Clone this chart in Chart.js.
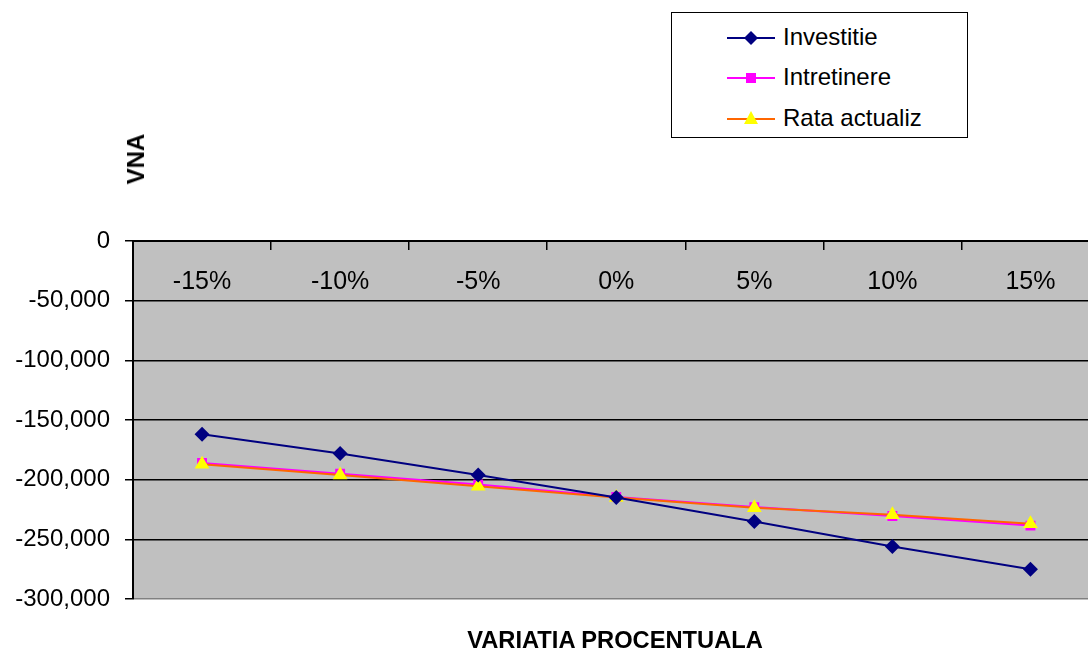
<!DOCTYPE html>
<html>
<head>
<meta charset="utf-8">
<script src="https://cdn.jsdelivr.net/npm/chart.js@4/dist/chart.umd.min.js"></script>
<style>
  html, body { margin: 0; padding: 0; width: 1088px; height: 652px; overflow: hidden; background: #fff; }
  #wrap { position: relative; width: 1108px; height: 652px; }
  canvas { position: absolute; left: 0; top: 0; }
  .ytitle { position: absolute; left: 136px; top: 159px; transform: translate(-50%, -50%) rotate(-90deg);
            font: bold 24px "Liberation Sans", Arial, sans-serif; color: #000; white-space: nowrap; }
  .xtitle { position: absolute; left: 615px; top: 640px; transform: translate(-50%, -50%);
            font: bold 23.7px "Liberation Sans", Arial, sans-serif; color: #000; white-space: nowrap; }
  #legend { position: absolute; left: 671px; top: 12px; width: 295px; height: 124px;
            border: 1.5px solid #000; background: #fff; }
  .row { position: absolute; left: 55px; height: 30px; display: flex; align-items: center;
         font: 24px "Liberation Sans", Arial, sans-serif; color: #000; white-space: nowrap; }
  .row svg { margin-right: 8px; }
</style>
</head>
<body>
<div id="wrap">
  <canvas id="c" width="1108" height="652"></canvas>
  <div class="ytitle">VNA</div>
  <div class="xtitle">VARIATIA PROCENTUALA</div>
  <div id="legend"></div>
</div>
<script>
const categories = ['-15%', '-10%', '-5%', '0%', '5%', '10%', '15%'];
const seriesNames = ['Investitie', 'Intretinere', 'Rata actualiz'];
const investitie = [-162000, -178000, -196000, -215000, -235000, -256000, -275000];
const intretinere = [-186000, -195000, -204000, -214500, -223000, -230500, -238500];
const rataActualiz = [-187000, -196000, -205500, -215000, -223500, -229500, -237000];
const yTicks = [0, -50000, -100000, -150000, -200000, -250000, -300000];

const styles = [
  { line: '#000080', fill: '#000080', shape: 'rectRot', r: 7.5 },
  { line: '#FF00FF', fill: '#FF00FF', shape: 'rect', r: 7 },
  { line: '#FF6600', fill: '#FFFF00', shape: 'triangle', r: 8.5 }
];
const values = [investitie, intretinere, rataActualiz];
const orders = [0, 2, 1];

const datasets = values.map((v, i) => ({
  label: seriesNames[i],
  data: v,
  borderColor: styles[i].line,
  borderWidth: 2,
  pointStyle: styles[i].shape,
  pointRadius: styles[i].r,
  pointHoverRadius: styles[i].r,
  pointBackgroundColor: styles[i].fill,
  pointBorderColor: styles[i].fill,
  pointBorderWidth: 0,
  tension: 0,
  fill: false,
  order: orders[i]
}));

const bgPlugin = {
  id: 'plotBg',
  beforeDraw(chart) {
    const { ctx, chartArea: a } = chart;
    ctx.save();
    ctx.fillStyle = '#C0C0C0';
    ctx.fillRect(a.left, a.top, a.right - a.left, a.bottom - a.top);
    ctx.restore();
  }
};

new Chart(document.getElementById('c'), {
  type: 'line',
  data: { labels: categories, datasets },
  plugins: [bgPlugin],
  options: {
    responsive: false,
    animation: false,
    events: [],
    layout: { padding: { top: 241, bottom: 53, right: 0, left: 0 } },
    plugins: { legend: { display: false }, tooltip: { enabled: false } },
    scales: {
      x: {
        type: 'category',
        position: { y: 0 },
        offset: true,
        grid: { offset: true, drawOnChartArea: false, drawTicks: true, tickLength: 8, color: '#000', lineWidth: 1.5 },
        border: { display: true, color: '#000', width: 2 },
        ticks: { color: '#000', font: { family: '"Liberation Sans", Arial, sans-serif', size: 25 }, padding: 18, maxRotation: 0, autoSkip: false }
      },
      y: {
        min: -300000,
        max: 0,
        afterFit(scale) { scale.width = 133; },
        afterBuildTicks(scale) { scale.ticks = yTicks.map(v => ({ value: v })); },
        grid: {
          color: ctx => (ctx.tick && ctx.tick.value === -300000) ? '#808080' : '#000',
          tickColor: '#000',
          lineWidth: 1.5,
          tickLength: 8
        },
        border: { display: true, color: '#000', width: 2 },
        ticks: {
          color: '#000',
          padding: 15,
          font: { family: '"Liberation Sans", Arial, sans-serif', size: 24 },
          callback: v => v === 0 ? '0' : Number(v).toLocaleString('en-US')
        }
      }
    }
  }
});

// HTML legend
const legend = document.getElementById('legend');
const rowTops = [9, 49, 90];
const markerSvg = (s) => {
  let m = '';
  if (s.shape === 'rectRot') m = '<polygon points="24,9 31,16 24,23 17,16" fill="' + s.fill + '"/>';
  else if (s.shape === 'rect') m = '<rect x="19" y="11" width="10" height="10" fill="' + s.fill + '"/>';
  else m = '<polygon points="24,8 31,21 17,21" fill="' + s.fill + '"/>';
  return '<svg width="48" height="30" viewBox="0 0 48 30"><line x1="0" y1="16" x2="48" y2="16" stroke="' + s.line + '" stroke-width="2"/>' + m + '</svg>';
};
seriesNames.forEach((name, i) => {
  const d = document.createElement('div');
  d.className = 'row';
  d.style.top = rowTops[i] + 'px';
  d.innerHTML = markerSvg(styles[i]) + '<span>' + name + '</span>';
  legend.appendChild(d);
});
</script>
</body>
</html>
